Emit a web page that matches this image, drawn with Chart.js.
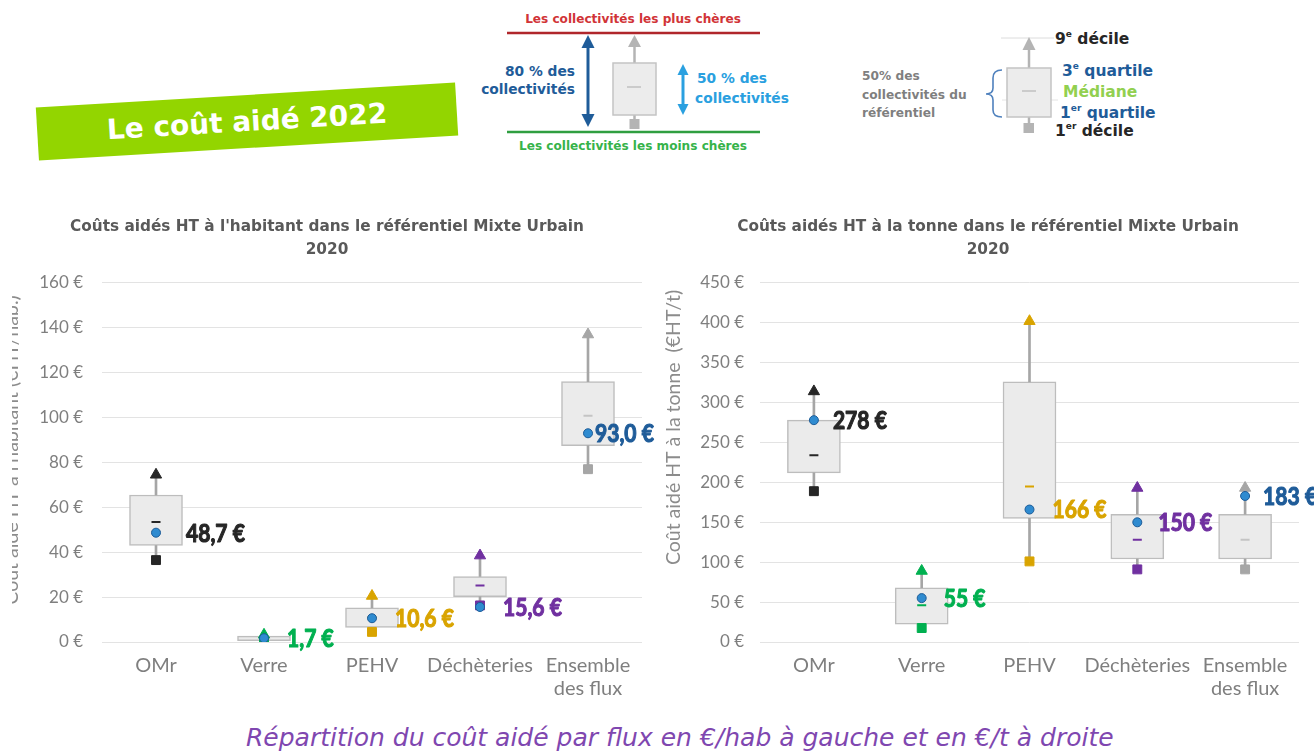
<!DOCTYPE html>
<html><head><meta charset="utf-8">
<script src="https://cdn.jsdelivr.net/npm/chart.js@4.4.1/dist/chart.umd.min.js"></script>
<style>
html,body{margin:0;padding:0;background:#fff;width:1314px;height:753px;overflow:hidden;position:relative;font-family:Lato,"Open Sans",sans-serif;}
#c1{position:absolute;left:12px;top:201px;}
#c2{position:absolute;left:657px;top:201px;}
#banner{position:absolute;left:37px;top:95px;width:420px;height:53px;background:#93d500;transform:rotate(-3.4deg);color:#fff;font:bold 28px "DejaVu Sans",sans-serif;text-align:center;line-height:53px;}
#caption{position:absolute;left:246px;top:722px;font-family:"DejaVu Sans",sans-serif;font-style:italic;font-size:25px;line-height:32px;color:#7f47b0;white-space:nowrap;}
svg{position:absolute;left:0;top:0;}
svg text{font-family:"DejaVu Sans",sans-serif;font-weight:bold;}
</style></head><body>
<svg width="1314" height="200">
  <!-- legend 1 -->
  <text x="633" y="19" fill="#d13438" font-size="12.1" text-anchor="middle" dominant-baseline="central">Les collectivités les plus chères</text>
  <line x1="507" y1="33" x2="760" y2="33" stroke="#b0262b" stroke-width="2.5"/>
  <line x1="507" y1="132" x2="760" y2="132" stroke="#2f9e40" stroke-width="2.5"/>
  <text x="633" y="146" fill="#36b34a" font-size="12.1" text-anchor="middle" dominant-baseline="central">Les collectivités les moins chères</text>
  <line x1="588" y1="44" x2="588" y2="118" stroke="#1f5c99" stroke-width="3"/>
  <polygon points="588,35 581.5,48 594.5,48" fill="#1f5c99"/>
  <polygon points="588,127 581.5,114 594.5,114" fill="#1f5c99"/>
  <text x="575" y="71" fill="#1f5c99" font-size="13.8" text-anchor="end" dominant-baseline="central">80 % des</text>
  <text x="575" y="89" fill="#1f5c99" font-size="13.8" text-anchor="end" dominant-baseline="central">collectivités</text>
  <line x1="634.5" y1="63" x2="634.5" y2="45" stroke="#b4b4b4" stroke-width="2.5"/>
  <polygon points="634.5,35 628,47 641,47" fill="#b4b4b4"/>
  <line x1="634.5" y1="115" x2="634.5" y2="121" stroke="#b4b4b4" stroke-width="2.5"/>
  <rect x="629.5" y="119" width="10" height="10" fill="#b4b4b4"/>
  <rect x="613" y="63" width="43" height="52" fill="#ececec" stroke="#c4c4c4" stroke-width="1.5"/>
  <line x1="627" y1="87" x2="641" y2="87" stroke="#c0c0c0" stroke-width="1.5"/>
  <line x1="683" y1="72" x2="683" y2="107" stroke="#2aa0e0" stroke-width="3"/>
  <polygon points="683,64 677.5,75 688.5,75" fill="#2aa0e0"/>
  <polygon points="683,115 677.5,104 688.5,104" fill="#2aa0e0"/>
  <text x="697" y="78" fill="#2aa0e0" font-size="13.8" dominant-baseline="central">50 % des</text>
  <text x="695" y="98" fill="#2aa0e0" font-size="13.8" dominant-baseline="central">collectivités</text>
  <!-- legend 2 -->
  <line x1="1001" y1="38" x2="1054" y2="38" stroke="#dcdcdc" stroke-width="1"/>
  <line x1="1002" y1="100" x2="1058" y2="100" stroke="#e4e4e4" stroke-width="1"/>
  <line x1="1029" y1="68" x2="1029" y2="48" stroke="#b4b4b4" stroke-width="2.5"/>
  <polygon points="1029,37 1022.5,50 1035.5,50" fill="#b4b4b4"/>
  <line x1="1029" y1="117" x2="1029" y2="124" stroke="#b4b4b4" stroke-width="2.5"/>
  <rect x="1023.5" y="123" width="10.5" height="10" fill="#b4b4b4"/>
  <rect x="1007" y="68" width="44" height="49" fill="#ececec" stroke="#c4c4c4" stroke-width="1.5"/>
  <line x1="1022" y1="91" x2="1036" y2="91" stroke="#c0c0c0" stroke-width="1.5"/>
  <path d="M1002,70 Q993,70 993,78 L993,88 Q993,94 986,94 Q993,94 993,100 L993,110 Q993,117 1002,117" stroke="#4f81bd" stroke-width="1.6" fill="none"/>
  <text x="1055" y="39" fill="#262626" font-size="15.5" dominant-baseline="central">9<tspan font-size="9" dy="-5">e</tspan><tspan dy="5"> décile</tspan></text>
  <text x="1062" y="71" fill="#1f5c99" font-size="15.5" dominant-baseline="central">3<tspan font-size="9" dy="-5">e</tspan><tspan dy="5"> quartile</tspan></text>
  <text x="1063" y="92" fill="#92d050" font-size="15.5" dominant-baseline="central">Médiane</text>
  <text x="1060" y="113" fill="#1f5c99" font-size="15.5" dominant-baseline="central">1<tspan font-size="9" dy="-5">er</tspan><tspan dy="5"> quartile</tspan></text>
  <text x="1055" y="131" fill="#262626" font-size="15.5" dominant-baseline="central">1<tspan font-size="9" dy="-5">er</tspan><tspan dy="5"> décile</tspan></text>
  <text x="862" y="76" fill="#7f7f7f" font-size="12.2" dominant-baseline="central">50% des</text>
  <text x="862" y="95" fill="#7f7f7f" font-size="12.2" dominant-baseline="central">collectivités du</text>
  <text x="862" y="113" fill="#7f7f7f" font-size="12.2" dominant-baseline="central">référentiel</text>
</svg>
<div id="banner">Le coût aidé 2022</div>
<canvas id="c1" width="652" height="500"></canvas>
<canvas id="c2" width="657" height="500"></canvas>
<div id="caption">Répartition du coût aidé par flux en €/hab à gauche et en €/t à droite</div>
<script>
// ---- Data ----
const categories = ['OMr', 'Verre', 'PEHV', 'Déchèteries', ['Ensemble', 'des flux']];

// €/habitant
const habD1   = [36.5, 0.3, 4.5, 16.3, 77];
const habQ1   = [43, 0.6, 6.5, 20.2, 87.5];
const habMed  = [53.5, 1.6, 11, 25.2, 100.8];
const habQ3   = [65.5, 2.6, 15.2, 29.2, 116];
const habD9   = [74.5, 3.2, 20.5, 38.5, 137];
const habMean = [48.7, 1.7, 10.6, 15.6, 93.0];

// €/tonne
const tonD1   = [189, 17.5, 101, 91, 91];
const tonQ1   = [212, 22.5, 155, 104, 104];
const tonMed  = [234, 46, 195, 128, 128];
const tonQ3   = [278, 68, 326, 160, 160];
const tonD9   = [314, 89, 402, 193, 193];
const tonMean = [278, 55, 166, 150, 183];

const habTicks = {min: 0, max: 160, step: 20};
const tonTicks = {min: 0, max: 450, step: 50};

// ---- Styles ----
const markerColors = ['#262626', '#00b050', '#d9a400', '#7030a0', '#a6a6a6'];
const medianColors = ['#262626', '#00b050', '#d9a400', '#7030a0', '#c4c4c4'];
const labelColors  = ['#262626', '#00b050', '#d9a400', '#7030a0', '#1f5c99'];

const fmtHab = v => v.toFixed(1).replace('.', ',') + ' €';
const fmtTon = v => Math.round(v) + ' €';

const meanLabelPlugin = {
  id: 'meanLabels',
  afterDatasetsDraw(chart, args, opts) {
    const meta = chart.getDatasetMeta(0);
    const ctx = chart.ctx;
    ctx.save();
    ctx.font = opts.font;
    ctx.textBaseline = 'middle';
    ctx.textAlign = 'left';
    ctx.lineJoin = 'round';
    meta.data.forEach((pt, i) => {
      ctx.save();
      ctx.translate(pt.x + opts.offsets[i], pt.y + 1);
      ctx.scale(opts.scaleX, 1);
      ctx.fillStyle = opts.colors[i];
      ctx.strokeStyle = opts.colors[i];
      ctx.lineWidth = opts.stroke;
      ctx.fillText(opts.texts[i], 0, 0);
      ctx.strokeText(opts.texts[i], 0, 0);
      ctx.restore();
    });
    ctx.restore();
  }
};

function makeChart(id, d, t, o) {
  return new Chart(document.getElementById(id), {
    type: 'bar',
    plugins: [meanLabelPlugin],
    data: {
      labels: categories,
      datasets: [
        {type: 'line', label: 'Moyenne', data: d.mean, showLine: false, pointStyle: 'circle', pointRadius: 4.5,
         pointBackgroundColor: '#2f8bd0', pointBorderColor: '#1d5c98', pointBorderWidth: 1, order: 0},
        {type: 'line', label: '9e décile', data: d.d9, showLine: false, pointStyle: 'triangle', pointRadius: 6.5,
         pointBackgroundColor: markerColors, pointBorderColor: markerColors, pointBorderWidth: 1, order: 1},
        {type: 'line', label: '1er décile', data: d.d1, showLine: false, pointStyle: 'rect', pointRadius: 6.3,
         pointBackgroundColor: markerColors, pointBorderColor: markerColors, pointBorderWidth: 1, order: 1},
        {type: 'line', label: 'Médiane', data: d.med, showLine: false, pointStyle: 'line', pointRadius: 4.5,
         pointBorderColor: medianColors, pointBorderWidth: 2, order: 2},
        {label: 'haut', data: d.q3.map((v, i) => [v, d.d9[i]]), backgroundColor: '#a6a6a6',
         barThickness: 2, grouped: false, order: 3},
        {label: 'bas', data: d.d1.map((v, i) => [v, d.q1[i]]), backgroundColor: '#a6a6a6',
         barThickness: 2, grouped: false, order: 3},
        {label: 'boîte', data: d.q1.map((v, i) => [v, d.q3[i]]), backgroundColor: '#ebebeb', borderColor: '#bdbdbd',
         borderWidth: 1.5, borderSkipped: false, barThickness: 53, grouped: false, order: 4}
      ]
    },
    options: {
      responsive: false,
      animation: false,
      events: [],
      layout: {padding: o.layoutPad},
      plugins: {
        legend: {display: false},
        tooltip: {enabled: false},
        title: {display: true, text: o.title, color: '#595959',
          font: {family: 'DejaVu Sans', size: 15.3, weight: 'bold', lineHeight: 1.5},
          padding: {top: 14.5, bottom: 21.5}},
        meanLabels: {font: 'bold 24.5px Lato, sans-serif', scaleX: 0.86, stroke: 1.1,
          colors: labelColors, texts: d.mean.map(o.fmt), offsets: o.labelOffsets}
      },
      scales: {
        x: {grid: {display: false, drawTicks: false}, border: {display: false},
          ticks: {color: '#7f7f7f', font: {family: 'Lato', size: 20, lineHeight: 1.15}, padding: 12.5, maxRotation: 0, autoSkip: false},
          afterFit: s => { s.height = 59; }},
        y: {min: t.min, max: t.max,
          ticks: {stepSize: t.step, callback: v => v + ' €', color: '#7f7f7f', font: {family: 'Lato', size: 17}, padding: o.tickPad},
          grid: {color: '#e3e3e3', drawTicks: false, lineWidth: 1},
          border: {display: false},
          title: {display: true, text: o.yTitle, color: '#8c8c8c', font: {family: 'Lato', size: 19.5, lineHeight: 1.2},
            padding: {top: o.yTitlePad, bottom: 0}},
          afterFit: s => { s.width = o.yWidth; }}
      }
    }
  });
}

makeChart('c1', {d1: habD1, q1: habQ1, med: habMed, q3: habQ3, d9: habD9, mean: habMean}, habTicks, {
  title: ["Coûts aidés HT à l'habitant dans le référentiel Mixte Urbain", '2020'],
  yTitle: '\u00a0'.repeat(5) + "Coût aidé HT à l'habitant (€HT/hab.)",
  yTitlePad: -11.7, yWidth: 90, tickPad: 19, layoutPad: {left: 0, right: 22, top: 0, bottom: 0},
  fmt: fmtHab, labelOffsets: [30, 23, 23, 23, 7]
});
makeChart('c2', {d1: tonD1, q1: tonQ1, med: tonMed, q3: tonQ3, d9: tonD9, mean: tonMean}, tonTicks, {
  title: ['Coûts aidés HT à la tonne dans le référentiel Mixte Urbain', '2020'],
  yTitle: '\u00a0'.repeat(14) + 'Coût aidé HT à la tonne  (€HT/t)',
  yTitlePad: -15.4, yWidth: 83, tickPad: 16, layoutPad: {left: 20, right: 15, top: 0, bottom: 0},
  fmt: fmtTon, labelOffsets: [19, 22, 23, 21, 18]
});
</script>
</body></html>
